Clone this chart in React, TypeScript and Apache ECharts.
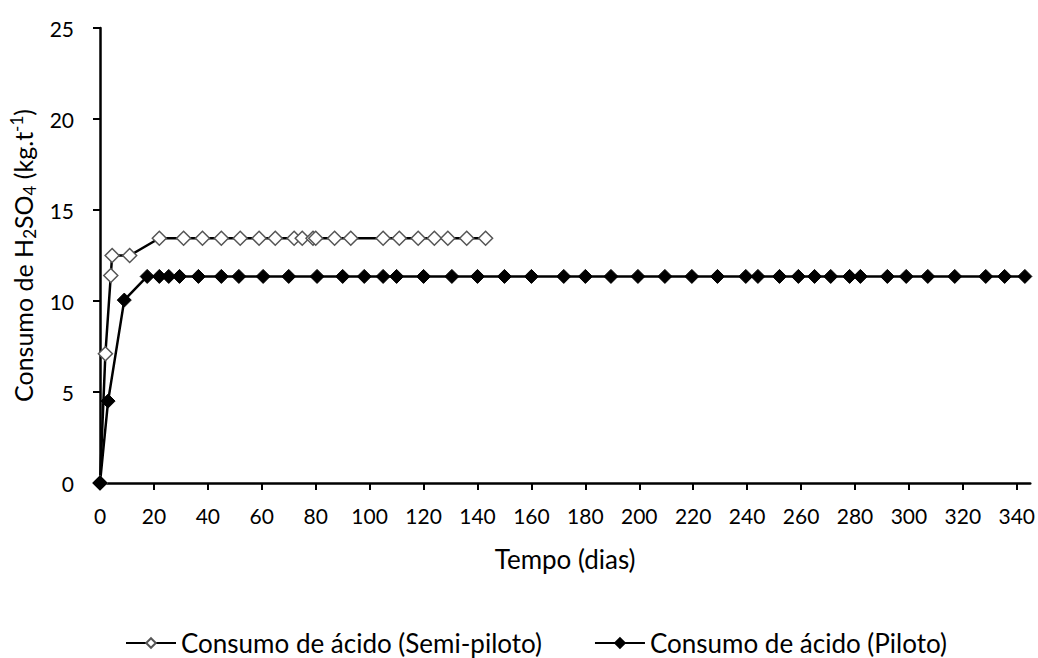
import React, { useEffect, useRef } from "react";
import * as echarts from "echarts";

// Semi-piloto series (days, kg/t)
const semiDays = [0, 2, 4, 4.5, 11, 22, 31, 38, 45, 52, 59, 65, 72, 75, 79, 80, 87, 93, 105, 111, 118, 124, 129, 136, 143];
const semiValues = [0, 7.1, 11.4, 12.5, 12.5, 13.45, 13.45, 13.45, 13.45, 13.45, 13.45, 13.45, 13.45, 13.45, 13.45, 13.45, 13.45, 13.45, 13.45, 13.45, 13.45, 13.45, 13.45, 13.45, 13.45];

// Piloto series (days, kg/t)
const pilotDays = [0, 3, 9, 17.5, 22, 25.5, 29.5, 36.5, 45, 51.5, 60.5, 70, 80.5, 90, 98, 105, 110, 120, 130.5, 140, 150, 160, 172, 180, 189.5, 199.5, 209.5, 219.5, 229, 239.5, 244, 252, 259, 265, 271, 278, 282, 292, 299, 307, 317, 328.5, 335.5, 343];
const pilotValues = [0, 4.5, 10.05, 11.35, 11.35, 11.35, 11.35, 11.35, 11.35, 11.35, 11.35, 11.35, 11.35, 11.35, 11.35, 11.35, 11.35, 11.35, 11.35, 11.35, 11.35, 11.35, 11.35, 11.35, 11.35, 11.35, 11.35, 11.35, 11.35, 11.35, 11.35, 11.35, 11.35, 11.35, 11.35, 11.35, 11.35, 11.35, 11.35, 11.35, 11.35, 11.35, 11.35, 11.35];

const seriesNames = ["Consumo de ácido (Semi-piloto)", "Consumo de ácido (Piloto)"];
const xTitle = "Tempo (dias)";

const FONT = "Lato";
const TICK_FS = 21;
const TITLE_FS = 25;
const LEGEND_FS = 26;

export default function App() {
  const ref = useRef<HTMLDivElement>(null);
  useEffect(() => {
    if (!ref.current) return;
    const chart = echarts.init(ref.current, null, { renderer: "svg" });
    const semi = semiDays.map((d, i) => [d, semiValues[i]]);
    const pilot = pilotDays.map((d, i) => [d, pilotValues[i]]);
    chart.setOption({
      animation: false,
      backgroundColor: "#fff",
      textStyle: { fontFamily: FONT, color: "#000" },
      grid: { left: 97, top: 28, width: 941, height: 455, containLabel: false },
      xAxis: {
        type: "value",
        min: 0,
        max: 345,
        interval: 20,
        splitLine: { show: false },
        axisLine: { lineStyle: { color: "#000", width: 2.5 } },
        axisTick: { show: true, length: 7, lineStyle: { color: "#000", width: 2 } },
        axisLabel: { showMaxLabel: false, fontSize: TICK_FS, color: "#000", fontFamily: FONT, margin: 22 },
        name: xTitle,
        nameLocation: "middle",
        nameGap: 63,
        nameTextStyle: { fontSize: LEGEND_FS, color: "#000", fontFamily: FONT },
      },
      yAxis: {
        type: "value",
        min: 0,
        max: 25,
        interval: 5,
        splitLine: { show: false },
        axisLine: { lineStyle: { color: "#000", width: 2.5 } },
        axisTick: { show: true, length: 7, lineStyle: { color: "#000", width: 2 } },
        axisLabel: { fontSize: TICK_FS, color: "#000", fontFamily: FONT, margin: 26 },
        name: "{a|Consumo de H}{s|2}{a|SO}{s|4}{a| (kg.t}{p|-1}{a|)}",
        nameLocation: "middle",
        nameGap: 62,
        nameTextStyle: {
          rich: {
            a: { fontSize: TITLE_FS, fontFamily: FONT, color: "#000", lineHeight: 30 },
            s: { fontSize: 17, fontFamily: FONT, color: "#000", lineHeight: 17, verticalAlign: "bottom" },
            p: { fontSize: 17, fontFamily: FONT, color: "#000", lineHeight: 17, verticalAlign: "top" },
          },
        },
      },
      legend: {
        left: 120,
        top: 625,
        itemWidth: 50,
        itemHeight: 12,
        itemGap: 52,
        textStyle: { fontSize: LEGEND_FS, fontFamily: FONT, color: "#000" },
        data: seriesNames,
      },
      series: [
        {
          name: seriesNames[0],
          type: "line",
          data: semi,
          symbol: "diamond",
          symbolSize: 14,
          lineStyle: { color: "#000", width: 2.5 },
          itemStyle: { color: "#fff", borderColor: "#555", borderWidth: 1.5 },
        },
        {
          name: seriesNames[1],
          type: "line",
          data: pilot,
          symbol: "diamond",
          symbolSize: 14,
          lineStyle: { color: "#000", width: 2.5 },
          itemStyle: { color: "#000", borderColor: "#000", borderWidth: 1 },
        },
      ],
    });
    return () => chart.dispose();
  }, []);
  return (
    <div
      ref={ref}
      style={{ position: "absolute", left: 0, top: 0, width: 1038, height: 658 }}
    />
  );
}
